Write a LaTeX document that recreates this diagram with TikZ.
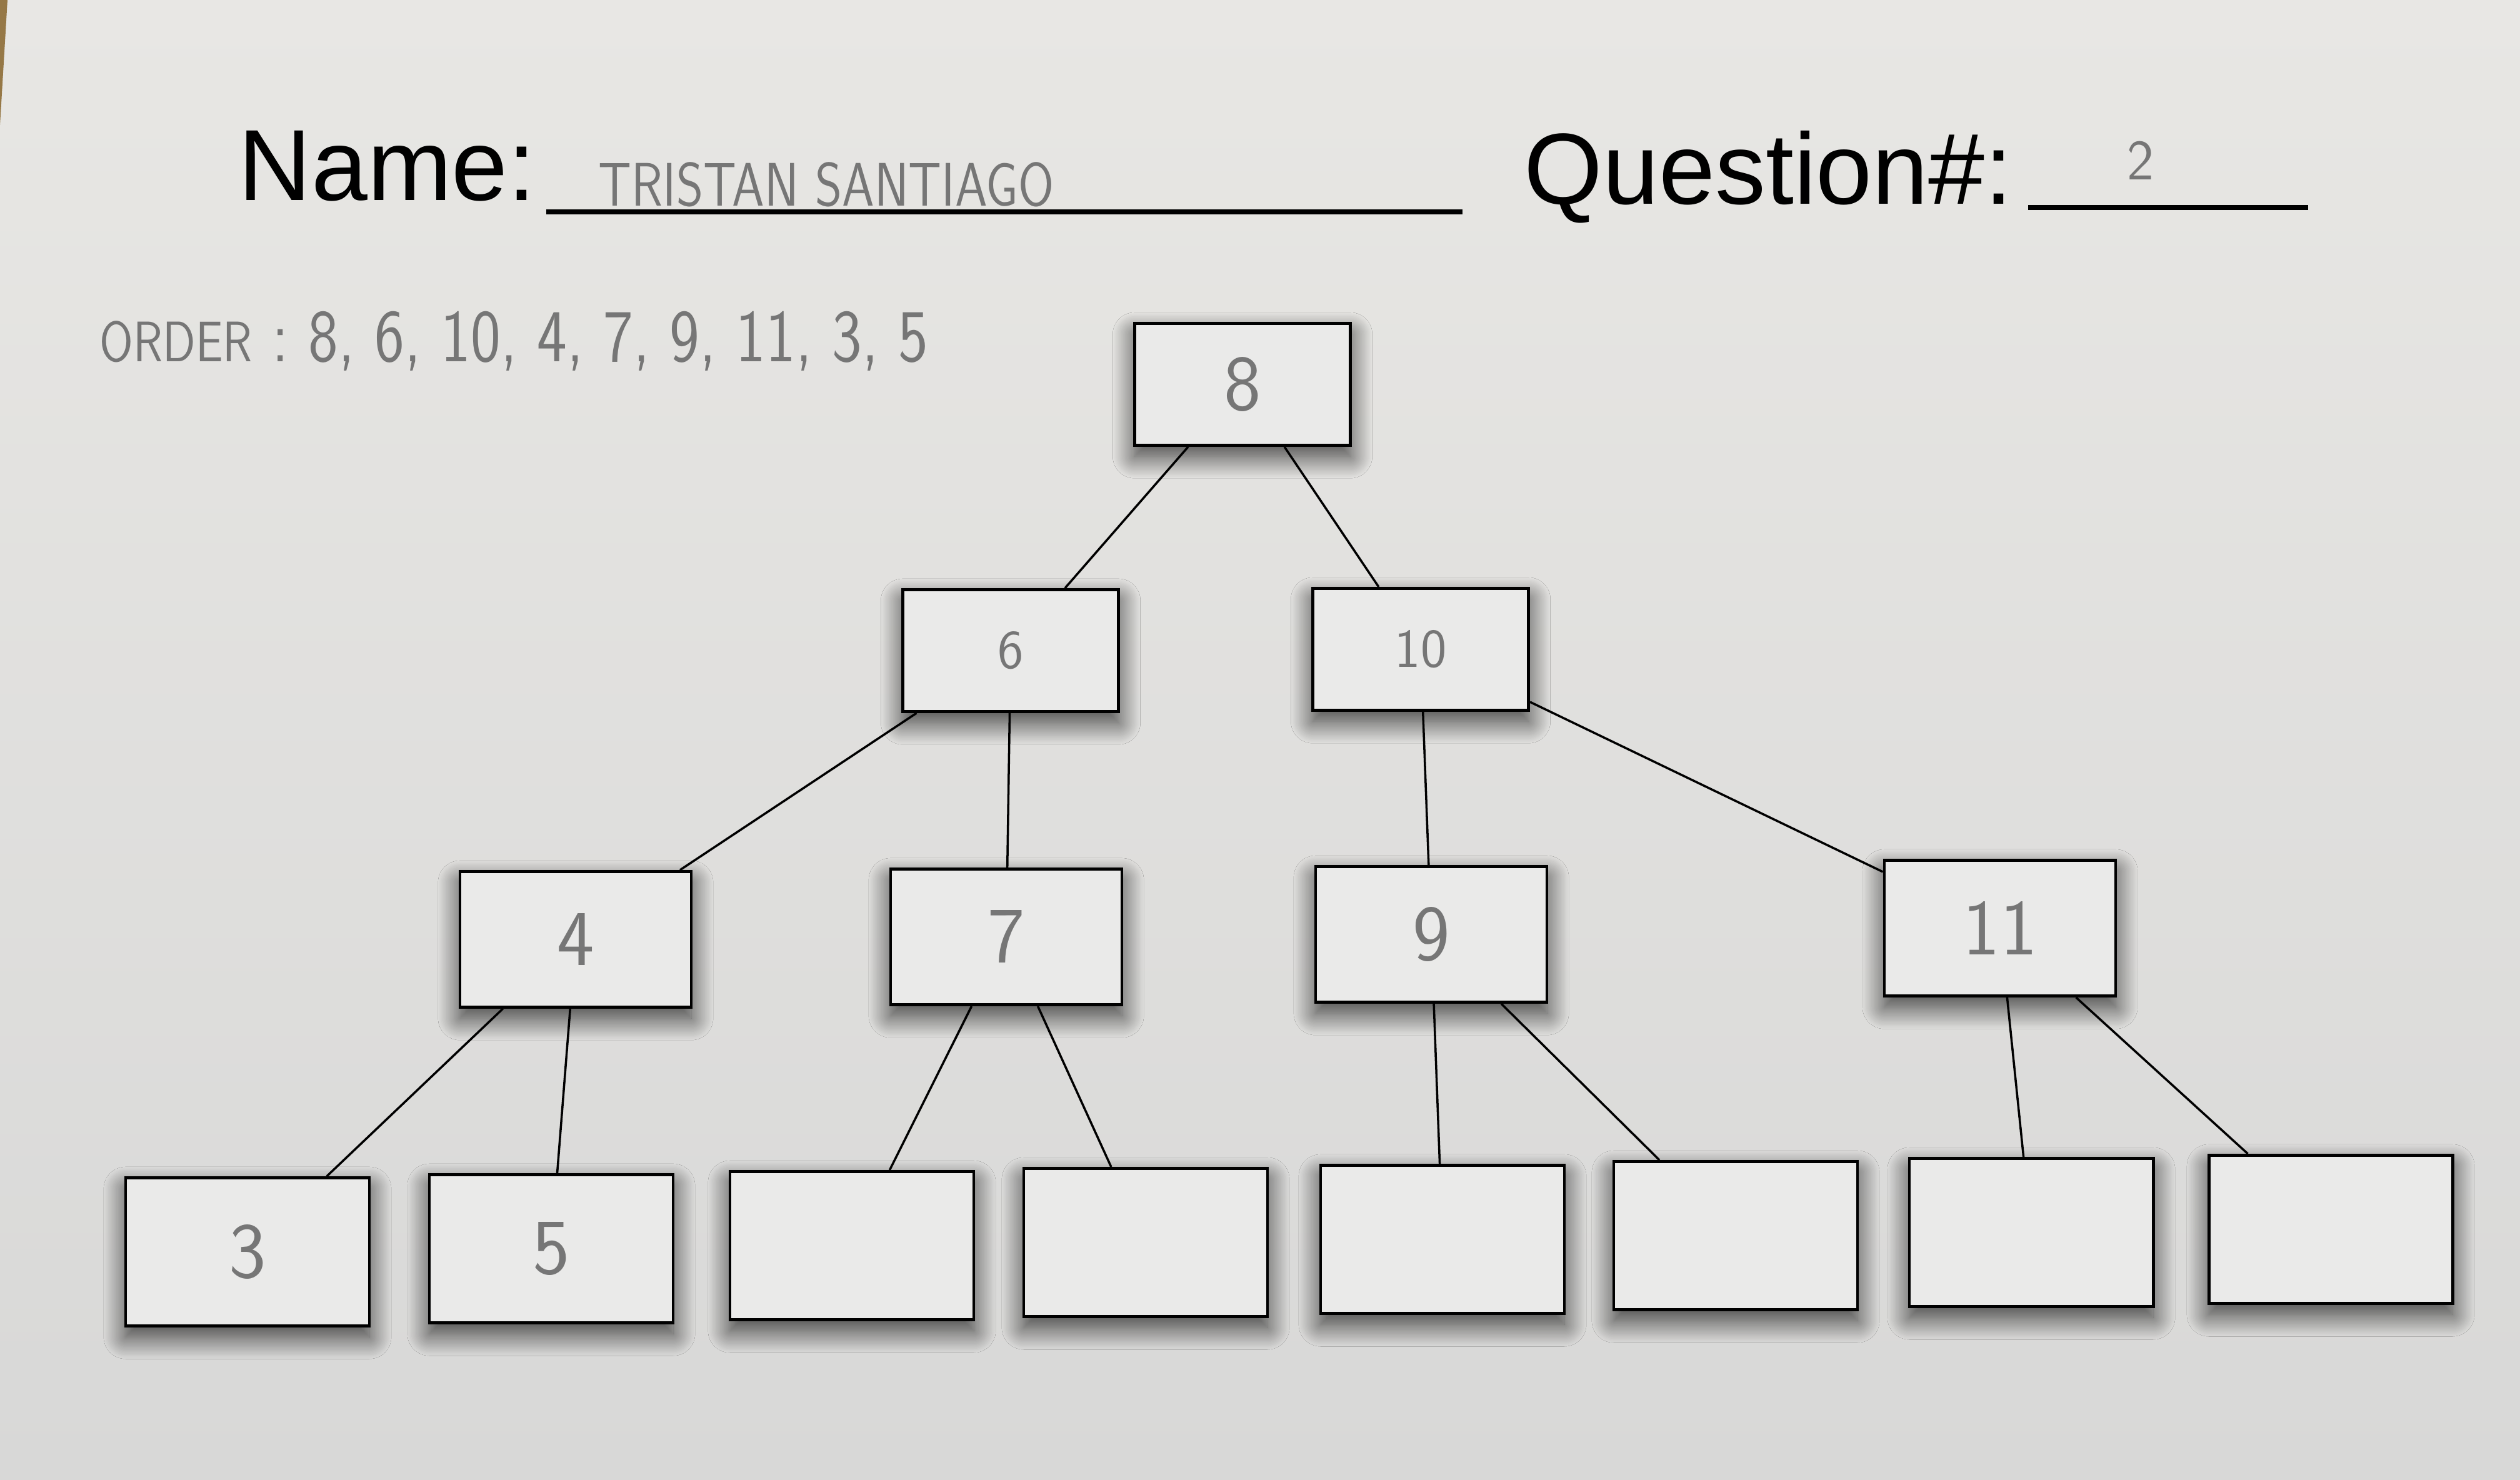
\documentclass[tikz,border=0pt]{standalone}
\usepackage{fontspec}
\usepackage{tikz}
\usetikzlibrary{shadows.blur}
\newfontfamily\formfont{Liberation Sans}
\definecolor{papertop}{RGB}{232,231,228}
\definecolor{paperbot}{RGB}{216,216,215}
\definecolor{boxfill}{RGB}{234,234,233}
\definecolor{pencil}{RGB}{118,118,118}
\definecolor{desk}{RGB}{150,120,70}

\begin{document}
\begin{tikzpicture}[
  slot/.style={rectangle, draw, line width=1.4pt, fill=boxfill, text=pencil, font=\fontsize{36}{36}\selectfont\sffamily,
    blur shadow={shadow xshift=0pt, shadow yshift=-5pt, shadow blur radius=10pt, shadow blur steps=30, shadow opacity=75}},
  upperbox/.style={slot, minimum width=3.45cm, minimum height=1.95cm},
  midbox/.style={slot, minimum width=3.7cm, minimum height=2.17cm},
  leafbox/.style={slot, minimum width=3.9cm, minimum height=2.37cm},
  link/.style={line width=1pt},
  form/.style={inner sep=0pt, font=\fontsize{46}{46}\selectfont\formfont},
  hand/.style={inner sep=0pt, text=pencil, font=\sffamily}
]
  \useasboundingbox (0,0) rectangle (40.32,-23.68);
  \shade[top color=papertop, bottom color=paperbot] (0,0) rectangle (40.32,-23.68);
  \fill[desk] (0,0) -- (0.12,0) -- (0,-2.0) -- cycle;

  % header of the sheet
  \node[form, anchor=base west] (namelbl) at (3.81,-3.21) {Name:};
  \node[form, anchor=base west] (questlbl) at (24.38,-3.27) {Question\#:};
  \draw[line width=2.2pt] (8.74,-3.39) -- (23.40,-3.39);
  \draw[line width=2.2pt] (32.45,-3.32) -- (36.93,-3.32);
  \node[hand, anchor=base west, font=\fontsize{28}{28}\selectfont\sffamily] (student) at (9.57,-3.30) {\scalebox{0.84}[1]{TRISTAN SANTIAGO}};
  \node[hand, anchor=base, font=\fontsize{26}{26}\selectfont\sffamily] (qnum) at (34.25,-2.88) {2};
  \node[hand, anchor=base west, font=\fontsize{34}{34}\selectfont\sffamily] (order) at (1.59,-5.79)
    {\scalebox{0.85}[1]{{\fontsize{26}{26}\selectfont ORDER} : 8, 6, 10, 4, 7, 9, 11, 3, 5}};

  % tree
  \node[upperbox] (n8) at (19.88,-6.15) {8};
  \node[upperbox, font=\fontsize{25}{25}\selectfont\sffamily] (n6) at (16.17,-10.41) {6};
  \node[upperbox, font=\fontsize{25}{25}\selectfont\sffamily] (n10) at (22.73,-10.39) {10};
  \node[midbox] (n4) at (9.21,-15.03) {4};
  \node[midbox] (n7) at (16.10,-14.99) {7};
  \node[midbox] (n9) at (22.90,-14.95) {9};
  \node[midbox] (n11) at (32.00,-14.85) {11};
  \node[leafbox] (n3) at (3.96,-20.03) {3};
  \node[leafbox] (n5) at (8.82,-19.98) {5};
  \node[leafbox] (e1) at (13.63,-19.93) {};
  \node[leafbox] (e2) at (18.33,-19.88) {};
  \node[leafbox] (e3) at (23.08,-19.83) {};
  \node[leafbox] (e4) at (27.77,-19.77) {};
  \node[leafbox] (e5) at (32.50,-19.72) {};
  \node[leafbox] (e6) at (37.29,-19.67) {};

  \draw[link] (n8) -- (n6);
  \draw[link] (n8) -- (n10);
  \draw[link] (n6) -- (n4);
  \draw[link] (n6) -- (n7);
  \draw[link] (n10) -- (n9);
  \draw[link] (n10) -- (n11);
  \draw[link] (n4) -- (n3);
  \draw[link] (n4) -- (n5);
  \draw[link] (n7) -- (e1);
  \draw[link] (n7) -- (e2);
  \draw[link] (n9) -- (e3);
  \draw[link] (n9) -- (e4);
  \draw[link] (n11) -- (e5);
  \draw[link] (n11) -- (e6);
\end{tikzpicture}
\end{document}
